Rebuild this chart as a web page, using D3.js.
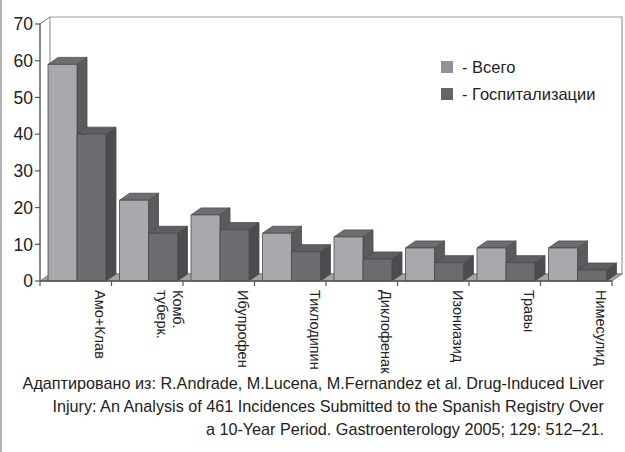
<!DOCTYPE html>
<html>
<head>
<meta charset="utf-8">
<script src="https://cdn.jsdelivr.net/npm/d3@7"></script>
<style>
  html, body { margin: 0; padding: 0; background: #fff; }
  svg { display: block; font-family: "Liberation Sans", Arial, Helvetica, sans-serif; }
</style>
</head>
<body>
<svg id="chart" width="625" height="452"></svg>
<script>
// Drug-induced liver injury cases by agent: total vs hospitalised
const categories = ["Амо+Клав", "Комб.\nтуберк.", "Ибупрофен", "Тиклодипин", "Диклофенак", "Изониазид", "Травы", "Нимесулид"];
const seriesNames = ["- Всего", "- Госпитализации"];
const totalCases = [59, 22, 18, 13, 12, 9, 9, 9];
const hospitalised = [40, 13, 14, 8, 6, 5, 5, 3];
const yTicks = [0, 10, 20, 30, 40, 50, 60, 70];
const captionLines = [
  "Адаптировано из: R.Andrade, M.Lucena, M.Fernandez et al. Drug-Induced Liver",
  "Injury: An Analysis of 461 Incidences Submitted to the Spanish Registry Over",
  "a 10-Year Period. Gastroenterology 2005; 129: 512–21."
];

const svg = d3.select("#chart");

// frame line on the left edge
svg.append("line").attr("x1", 1).attr("x2", 1).attr("y1", 0).attr("y2", 452)
  .attr("stroke", "#b4b4b4").attr("stroke-width", 2);

// front plane geometry and 3D depth offset
const x0 = 40, x1 = 612;
const depthX = 10, depthY = -7;

const y = d3.scaleLinear().domain([0, 70]).range([281, 24]);
const x = d3.scaleBand().domain(d3.range(categories.length)).range([x0, x1]).paddingInner(0).paddingOuter(0);
const xs = d3.scaleBand().domain([0, 1]).range([8, 66]);

const palette = [
  { front: "#a8a9ac", top: "#6d6e71", side: "#5a5b5e", legend: "#929396" },
  { front: "#6b6c6f", top: "#5e5f62", side: "#4b4c4f", legend: "#646568" }
];

// back wall
const base = y(0);
const topY = y(70);
svg.append("polygon")
  .attr("points", [[x0 + depthX, topY + depthY], [x1 + depthX, topY + depthY], [x1 + depthX, base + depthY], [x0 + depthX, base + depthY]].join(" "))
  .attr("fill", "#fff").attr("stroke", "#9a9a9a").attr("stroke-width", 1.2);
// left wall edge
svg.append("line").attr("x1", x0).attr("y1", topY).attr("x2", x0 + depthX).attr("y2", topY + depthY)
  .attr("stroke", "#777").attr("stroke-width", 1);

// floor
svg.append("polygon")
  .attr("points", [[x0, base], [x1, base], [x1 + depthX, base + depthY], [x0 + depthX, base + depthY]].join(" "))
  .attr("fill", "#a3a4a6").attr("stroke", "#6a6a6a").attr("stroke-width", 0.8);

// bars
const data = categories.map((c, i) => [totalCases[i], hospitalised[i]]);
const barG = svg.append("g");
data.forEach((vals, i) => {
  vals.forEach((v, s) => {
    const left = x(i) + xs(s);
    const w = xs.bandwidth();
    const t = y(v);
    const col = palette[s];
    const g = barG.append("g").attr("stroke", "#4a4a4a").attr("stroke-width", 0.8).attr("stroke-linejoin", "round");
    g.append("polygon")
      .attr("points", [[left + w, t], [left + w + depthX, t + depthY], [left + w + depthX, base + depthY], [left + w, base]].join(" "))
      .attr("fill", col.side);
    g.append("polygon")
      .attr("points", [[left, t], [left + depthX, t + depthY], [left + w + depthX, t + depthY], [left + w, t]].join(" "))
      .attr("fill", col.top);
    g.append("rect").attr("x", left).attr("y", t).attr("width", w).attr("height", base - t)
      .attr("fill", col.front);
  });
});

// y axis
const yAxis = svg.append("g");
yAxis.append("line").attr("x1", x0).attr("x2", x0).attr("y1", topY).attr("y2", base)
  .attr("stroke", "#555").attr("stroke-width", 1.4);
yTicks.forEach(t => {
  yAxis.append("line").attr("x1", x0 - 5).attr("x2", x0).attr("y1", y(t)).attr("y2", y(t))
    .attr("stroke", "#555").attr("stroke-width", 1.2);
  yAxis.append("text").attr("x", 33).attr("y", y(t)).attr("dy", "0.36em")
    .attr("text-anchor", "end").attr("font-size", 17.5).attr("fill", "#222").text(t);
});

// x axis
const xAxis = svg.append("g");
xAxis.append("line").attr("x1", x0).attr("x2", x1).attr("y1", base).attr("y2", base)
  .attr("stroke", "#555").attr("stroke-width", 1.4);
d3.range(categories.length + 1).forEach(i => {
  const xx = i < categories.length ? x(i) : x1;
  xAxis.append("line").attr("x1", xx).attr("x2", xx).attr("y1", base).attr("y2", base + 5)
    .attr("stroke", "#555").attr("stroke-width", 1.2);
});
categories.forEach((c, i) => {
  const lines = c.split("\n");
  const cx = x(i) + x.bandwidth() - 11 + (lines.length - 1) * 6;
  const tx = xAxis.append("text")
    .attr("transform", `translate(${cx},${base + 9}) rotate(90)`)
    .attr("font-size", 14.5).attr("fill", "#222");
  lines.forEach((ln, k) => {
    tx.append("tspan").attr("x", 0).attr("dy", k === 0 ? "0.35em" : "1.1em").text(ln);
  });
});

// legend
const legend = svg.append("g").attr("transform", "translate(441,61)");
seriesNames.forEach((n, i) => {
  legend.append("rect").attr("x", 0).attr("y", i * 27).attr("width", 12).attr("height", 12)
    .attr("fill", palette[i].legend);
  legend.append("text").attr("x", 21).attr("y", i * 27 + 11.5)
    .attr("font-size", 16.5).attr("fill", "#222").text(n);
});

// source caption
const cap = svg.append("g");
captionLines.forEach((ln, i) => {
  cap.append("text").attr("x", 604).attr("y", 389 + i * 23)
    .attr("text-anchor", "end").attr("font-size", 16.2).attr("fill", "#222").text(ln);
});
</script>
</body>
</html>
